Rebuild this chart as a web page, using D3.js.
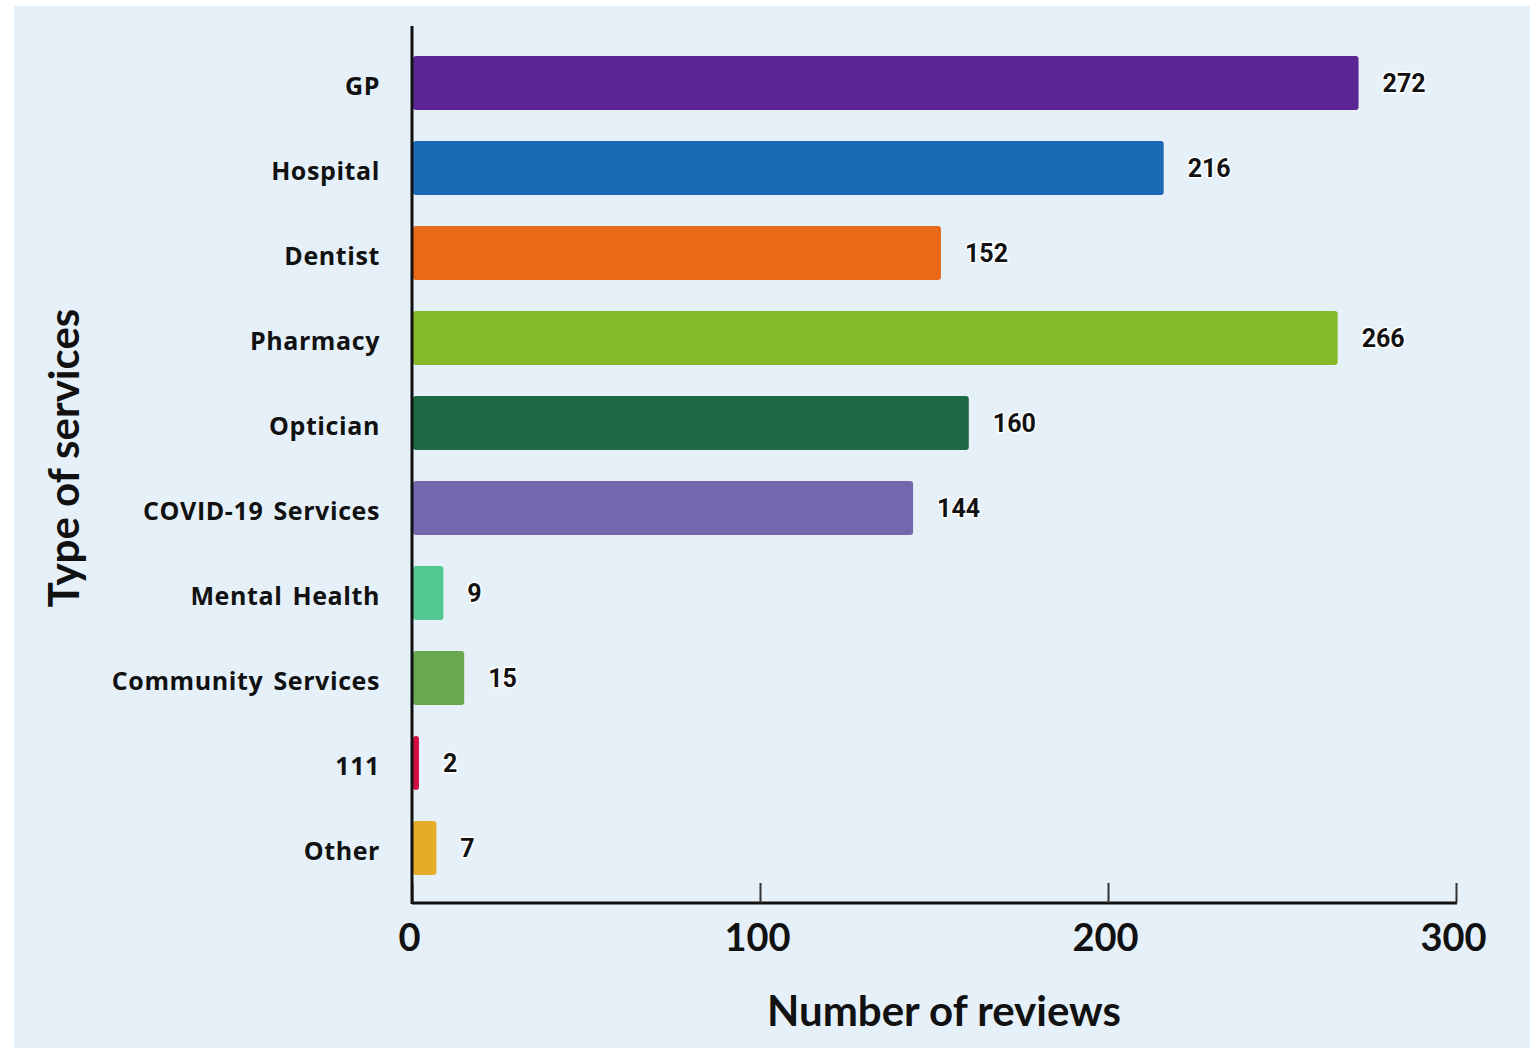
<!DOCTYPE html>
<html>
<head>
<meta charset="utf-8">
<script src="https://cdn.jsdelivr.net/npm/d3@7"></script>
<style>
  html, body { margin: 0; padding: 0; background: #ffffff; }
  svg { display: block; }
</style>
</head>
<body>
<svg id="chart" width="1535" height="1048"></svg>
<script>
// Reviews received per type of service
const services = ["GP", "Hospital", "Dentist", "Pharmacy", "Optician",
  "COVID-19 Services", "Mental Health", "Community Services", "111", "Other"];
const reviews = [272, 216, 152, 266, 160, 144, 9, 15, 2, 7];
const barColors = ["#5b2694", "#1b6ab6", "#e86a19", "#84ba27", "#1d6944",
  "#7367ae", "#52c78f", "#69a84f", "#d10f44", "#e5ac2a"];
const xTicks = [0, 100, 200, 300];

const svg = d3.select("#chart");

// light blue panel
svg.append("rect")
  .attr("x", 14).attr("y", 6)
  .attr("width", 1516).attr("height", 1042)
  .attr("fill", "#e5f0f9");

const x = d3.scaleLinear().domain([0, 300]).range([412, 1456]);
const y = d3.scaleBand().domain(services)
  .range([40.5, 890.5])
  .paddingInner(0.365)
  .paddingOuter(0.1825);

const data = services.map((s, i) => ({ service: s, value: reviews[i], color: barColors[i] }));

// bars
svg.append("g").selectAll("rect")
  .data(data)
  .join("rect")
  .attr("x", x(0) + 1)
  .attr("y", d => y(d.service))
  .attr("width", d => x(d.value) - x(0) - 1)
  .attr("height", y.bandwidth())
  .attr("rx", 3).attr("ry", 3)
  .attr("fill", d => d.color);

// value labels with white halo
svg.append("g").selectAll("text")
  .data(data)
  .join("text")
  .attr("x", d => x(d.value) + 24)
  .attr("y", d => y(d.service) + y.bandwidth() / 2)
  .attr("dy", "0.36em")
  .attr("font-family", "Roboto, sans-serif")
  .attr("font-weight", 700)
  .attr("font-size", 25)
  .attr("fill", "#111")
  .attr("stroke", "#ffffff")
  .attr("stroke-width", 3)
  .attr("stroke-linejoin", "round")
  .attr("paint-order", "stroke")
  .text(d => d.value);

// x axis
const xAxis = d3.axisBottom(x)
  .tickValues(xTicks)
  .tickSize(-20)
  .tickPadding(0)
  .tickFormat(d3.format("d"));

const gx = svg.append("g")
  .attr("transform", "translate(0,903)")
  .call(xAxis);
gx.select(".domain").attr("stroke", "#111").attr("stroke-width", 3)
  .attr("d", `M${x(0)},0H${x(300) + 1}`);
gx.selectAll(".tick line").attr("stroke", "#333").attr("stroke-width", 2);
gx.selectAll(".tick text")
  .attr("x", -3)
  .attr("y", 35)
  .attr("dy", "0.35em")
  .attr("font-family", "Lato, sans-serif")
  .attr("font-weight", 700)
  .attr("font-size", 38)
  .attr("fill", "#111");

// y axis line
svg.append("line")
  .attr("x1", 412).attr("x2", 412)
  .attr("y1", 26).attr("y2", 904)
  .attr("stroke", "#111").attr("stroke-width", 3);

// category labels
svg.append("g").selectAll("text")
  .data(data)
  .join("text")
  .attr("x", 380)
  .attr("y", d => y(d.service) + y.bandwidth() / 2 + 3)
  .attr("dy", "0.35em")
  .attr("text-anchor", "end")
  .attr("font-family", "'Open Sans', sans-serif")
  .attr("font-weight", 700)
  .attr("font-size", 25)
  .attr("letter-spacing", 0.6)
  .attr("word-spacing", 3)
  .attr("fill", "#111")
  .text(d => d.service);

// axis titles
svg.append("text")
  .attr("x", 944).attr("y", 1026)
  .attr("text-anchor", "middle")
  .attr("font-family", "Lato, sans-serif")
  .attr("font-weight", 700)
  .attr("font-size", 42)
  .attr("fill", "#111")
  .text("Number of reviews");

svg.append("text")
  .attr("transform", "translate(79,458) rotate(-90)")
  .attr("text-anchor", "middle")
  .attr("font-family", "Lato, sans-serif")
  .attr("font-weight", 700)
  .attr("font-size", 42)
  .attr("fill", "#111")
  .text("Type of services");
</script>
</body>
</html>
